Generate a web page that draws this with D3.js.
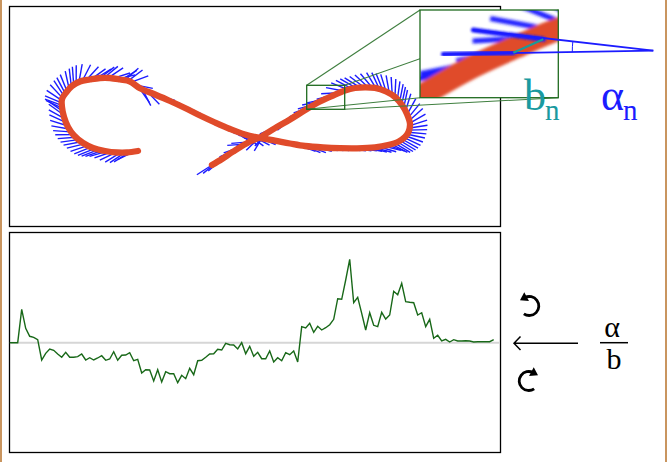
<!DOCTYPE html>
<html><head><meta charset="utf-8">
<script src="https://cdn.jsdelivr.net/npm/d3@7"></script>
<style>body{margin:0;background:#fff} svg{display:block}</style>
</head><body>
<svg id="c" width="667" height="462"></svg>
<script>
// ---- data: pen trajectory (tablet units) ----
const penX = [202.5,212.5,223.5,240.5,250.5,265.5,280.5,296.5,310.5,323.5,335.5,345.5,355.5,365.5,376.5,385.5,392.5,397.5,400.5,399,395.5,388.8,378.5,365.5,347.5,330.5,313.5,295.5,280.5,265.5,250.5,235.5,220.5,205.5,190.5,175.5,160.5,145.5,130.5,120.5,110.5,100.5,90.5,80.5,70.5,62.5,57,52.5,52.5,54.5,58.5,64.5,73.5,83.5,95.5,107.5,117.5,128.5,138.8];
const penY = [158.5,152.5,145.2,135,130.8,121.6,113,103,95,89,84,81.5,80.8,81.4,85,90.5,98.5,107.5,117.5,125.5,130.5,135.2,138.5,140.8,141.8,141.7,141,139.5,137,134.2,131.5,128,122.5,116,109,101.5,94.5,88,81.8,75,73,71.5,71.5,73,75,79.5,85.5,92.5,100.5,110.5,120.5,129,136.5,141.5,144.5,146,146,144.5];
// ---- data: signed curvature alpha/b per sample ----
const curvature = [0,0,0,33.4,14.4,6.4,5.4,3,-17.3,-10.6,-6.3,-7.6,-11.3,-14.6,-9.6,-14.6,-14.6,-14,-11.3,-17.3,-15,-17.3,-15.3,-13,-17.6,-16.3,-9,-17.6,-12.6,-12.3,-10,-18,-16.6,-30.3,-27,-27.3,-38.3,-27,-39.3,-29,-31,-31,-40,-32.6,-36,-25.6,-32,-18,-17.6,-14.6,-11.3,-11,-6.6,-7.3,-0.6,-2,-2.3,-6.3,0,-11,-3.6,-13.6,-9.6,-16,-16,-8.3,-19.3,-15,-18,-10,-12,-8.3,-19.3,16,14.7,19.4,10.4,16.4,12.7,15,18,23.4,44,43.4,62.7,83.4,40,45.4,29.4,12.7,30,17.4,16,30.4,23.7,27.7,51.4,48,59.4,41,40.4,40,27.7,30,16,23.4,4.4,7.4,1.7,3.4,0.7,3,1.7,1.7,2,1.7,0.7,1,1,1,1,3];
const labels = {bn:["b","n"], an:["α","n"], frac:["α","b"]};

const svg = d3.select('#c');
const defs = svg.append('defs');
defs.append('clipPath').attr('id','insetClip').append('rect')
  .attr('x',420).attr('y',10).attr('width',138.3).attr('height',87.7);
defs.append('filter').attr('id','blur').attr('x','-20%').attr('y','-20%').attr('width','140%').attr('height','140%')
  .append('feGaussianBlur').attr('stdDeviation',0.38);
defs.append('filter').attr('id','blur2').attr('x','-20%').attr('y','-50%').attr('width','140%').attr('height','200%')
  .append('feGaussianBlur').attr('stdDeviation',1.2);

// page side borders
svg.append('line').attr('x1',1).attr('x2',1).attr('y1',0).attr('y2',462).attr('stroke','#c9955f').attr('stroke-width',2);
svg.append('line').attr('x1',666).attr('x2',666).attr('y1',0).attr('y2',462).attr('stroke','#c9955f').attr('stroke-width',2);

// ---- top panel ----
svg.append('rect').attr('x',9.5).attr('y',6.5).attr('width',491).attr('height',220)
  .attr('fill','#fff').attr('stroke','#000').attr('stroke-width',1.3);

const sx = d3.scaleLinear().domain([0,491]).range([9.5,500.5]);
const sy = d3.scaleLinear().domain([0,220]).range([6.5,226.5]);
const pts = penX.map((x,i)=>[sx(x), sy(penY[i])]);
const penLine = d3.line().curve(d3.curveCatmullRom.alpha(0.5));
const penD = penLine(pts);

const measure = svg.append('path').attr('d',penD).attr('fill','none').attr('stroke','none');
const node = measure.node();
const total = node.getTotalLength();
const P = l => { const p = node.getPointAtLength(Math.max(0,Math.min(total,l))); return [p.x,p.y]; };
function tangent(l){
  let a = Math.max(0,l-3), b = Math.min(total,l+3);
  if (b-a<3) { if (a===0) b=a+6; else a=b-6; }
  const p=P(a), q=P(b); const dx=q[0]-p[0], dy=q[1]-p[1]; const n=Math.hypot(dx,dy)||1;
  return [dx/n,dy/n];
}
const ticks = [];
const TLEN = 18;
const W = 9;
for (let l=0; l<=total; ){
  const T = tangent(l), T1 = tangent(l-W), T2 = tangent(l+W);
  const ang = Math.atan2(T1[0]*T2[1]-T1[1]*T2[0], T1[0]*T2[0]+T1[1]*T2[1]);
  const kappa = Math.abs(ang)/(2*W);
  const s = Math.sign(ang)||1;
  const phi = Math.atan(50*kappa);
  const N = [s*T[1], -s*T[0]];
  const dir = [-T[0]*Math.cos(phi)+N[0]*Math.sin(phi), -T[1]*Math.cos(phi)+N[1]*Math.sin(phi)];
  const p = P(l);
  ticks.push([p[0],p[1],p[0]+dir[0]*TLEN,p[1]+dir[1]*TLEN]);
  l += Math.max(2.2, Math.min(6.5, 6/(1+30*kappa)));
}

function drawScene(g, w){
  g.selectAll('line.tick').data(ticks).join('line').attr('class','tick')
    .attr('x1',d=>d[0]).attr('y1',d=>d[1]).attr('x2',d=>d[2]).attr('y2',d=>d[3])
    .attr('stroke','#1c1cff').attr('stroke-width',w).attr('stroke-linecap','butt');
  g.append('path').attr('d',penD).attr('fill','none').attr('stroke','#e04b2a')
    .attr('stroke-width',6.3).attr('stroke-linecap','round').attr('stroke-linejoin','round');
}
drawScene(svg.append('g'), 1.4);

// inset
const box = {x:306.7, y:85.3, w:38, h:24};
const big = {x:420, y:10, w:138.3, h:87.7};
const k = big.w/box.w;
const green = '#1f6b1f';
const corners = [[0,0],[1,0],[0,1],[1,1]];
svg.append('g').selectAll('line').data(corners).join('line')
  .attr('x1',d=>box.x+d[0]*box.w).attr('y1',d=>box.y+d[1]*box.h)
  .attr('x2',d=>big.x+d[0]*big.w).attr('y2',d=>big.y+d[1]*big.h)
  .attr('stroke','#3f7f3f').attr('stroke-width',1.1);
svg.append('rect').attr('x',box.x).attr('y',box.y).attr('width',box.w).attr('height',box.h)
  .attr('fill','none').attr('stroke',green).attr('stroke-width',1.3);
svg.append('rect').attr('x',big.x).attr('y',big.y).attr('width',big.w).attr('height',big.h).attr('fill','#fff');
const insetOuter = svg.append('g').attr('clip-path','url(#insetClip)');
const insetG = insetOuter.append('g').attr('filter','url(#blur)')
  .attr('transform',`translate(${big.x},${big.y}) scale(${k}) translate(${-box.x},${-box.y})`);
drawScene(insetG, 1.4);
// annotated magnified ticks
const vtx = [653.3,50.7];
const tA = [[473.3,30],[543.3,39.3]], tB = [[443.3,54.3],[513.3,52.7]];
insetOuter.selectAll('line.ann').data([tA,tB]).join('line').attr('class','ann')
  .attr('x1',d=>d[0][0]).attr('y1',d=>d[0][1]).attr('x2',d=>d[1][0]).attr('y2',d=>d[1][1])
  .attr('stroke','#1c1cff').attr('stroke-width',5).attr('stroke-linecap','round').attr('filter','url(#blur2)');
svg.append('rect').attr('x',big.x).attr('y',big.y).attr('width',big.w).attr('height',big.h)
  .attr('fill','none').attr('stroke',green).attr('stroke-width',1.3);
svg.selectAll('line.ext').data([tA,tB]).join('line').attr('class','ext')
  .attr('x1',d=>d[0][0]).attr('y1',d=>d[0][1]).attr('x2',vtx[0]).attr('y2',vtx[1])
  .attr('stroke','#1c1cff').attr('stroke-width',1.8);
svg.append('line').attr('x1',tB[1][0]).attr('y1',tB[1][1]).attr('x2',tA[1][0]).attr('y2',tA[1][1])
  .attr('stroke','#1a9a9a').attr('stroke-width',2.2);
{
  const r = 81;
  const a1 = Math.atan2(tA[0][1]-vtx[1], tA[0][0]-vtx[0]);
  const a2 = Math.atan2(tB[0][1]-vtx[1], tB[0][0]-vtx[0]);
  const p1=[vtx[0]+r*Math.cos(a1), vtx[1]+r*Math.sin(a1)], p2=[vtx[0]+r*Math.cos(a2), vtx[1]+r*Math.sin(a2)];
  svg.append('path').attr('d',`M${p1[0]},${p1[1]} A${r},${r} 0 0 0 ${p2[0]},${p2[1]}`)
    .attr('fill','none').attr('stroke','#1c1cff').attr('stroke-width',1);
}
const serif = "'Liberation Serif','Times New Roman',serif";
svg.append('text').attr('x',524).attr('y',110).attr('font-family',serif).attr('font-size',44).attr('fill','#1a9aa0').text(labels.bn[0]);
svg.append('text').attr('x',545).attr('y',120).attr('font-family',serif).attr('font-size',29).attr('fill','#1a9aa0').text(labels.bn[1]);
svg.append('text').attr('x',601).attr('y',110).attr('font-family',serif).attr('font-size',44).attr('fill','#1c1cff').text(labels.an[0]);
svg.append('text').attr('x',623).attr('y',120).attr('font-family',serif).attr('font-size',29).attr('fill','#1c1cff').text(labels.an[1]);

// ---- bottom panel ----
svg.append('rect').attr('x',9.5).attr('y',232.5).attr('width',491).attr('height',220)
  .attr('fill','#fff').attr('stroke','#000').attr('stroke-width',1.3);
const cx = d3.scaleLinear().domain([0,curvature.length-1]).range([9.7,493.7]);
const cy = d3.scaleLinear().domain([-110,110]).range([452.7,232.7]);
svg.append('line').attr('x1',10).attr('x2',500).attr('y1',cy(0)).attr('y2',cy(0))
  .attr('stroke','#d6d6d6').attr('stroke-width',2);
svg.append('path').datum(curvature)
  .attr('d',d3.line().x((d,i)=>cx(i)).y(d=>cy(d)))
  .attr('fill','none').attr('stroke','#186818').attr('stroke-width',1.4);

// rotation glyphs
function rotGlyph(c, r, aStart, aEnd, sweep){
  const rad = a=>a*Math.PI/180;
  const s=[c[0]+r*Math.cos(rad(aStart)), c[1]+r*Math.sin(rad(aStart))];
  const e=[c[0]+r*Math.cos(rad(aEnd)), c[1]+r*Math.sin(rad(aEnd))];
  svg.append('path').attr('d',`M${s[0]},${s[1]} A${r},${r} 0 1 ${sweep} ${e[0]},${e[1]}`)
    .attr('fill','none').attr('stroke','#000').attr('stroke-width',2.8);
  const t = rad(aEnd);
  const dir = sweep ? [-Math.sin(t), Math.cos(t)] : [Math.sin(t), -Math.cos(t)];
  const perp = [-dir[1], dir[0]];
  const tip = [e[0]+dir[0]*5.5, e[1]+dir[1]*5.5];
  const b1 = [e[0]-dir[0]*2+perp[0]*5, e[1]-dir[1]*2+perp[1]*5];
  const b2 = [e[0]-dir[0]*2-perp[0]*5, e[1]-dir[1]*2-perp[1]*5];
  svg.append('path').attr('d',`M${tip}L${b1}L${b2}Z`).attr('fill','#000');
}
rotGlyph([529.3,306],9.5,125,-118,0);
rotGlyph([528.7,381],9.5,55,298,1);

// arrow
svg.append('path').attr('d','M514,343.3 L578,343.3 M520.5,336.5 L514,343.3 L520.5,350')
  .attr('fill','none').attr('stroke','#000').attr('stroke-width',1.5);
svg.append('text').attr('x',612).attr('y',337).attr('text-anchor','middle').attr('font-family',serif).attr('font-size',30).text(labels.frac[0]);
svg.append('line').attr('x1',600).attr('x2',628).attr('y1',342.7).attr('y2',342.7).attr('stroke','#000').attr('stroke-width',1.5);
svg.append('text').attr('x',614).attr('y',369).attr('text-anchor','middle').attr('font-family',serif).attr('font-size',30).text(labels.frac[1]);
</script>
</body></html>
